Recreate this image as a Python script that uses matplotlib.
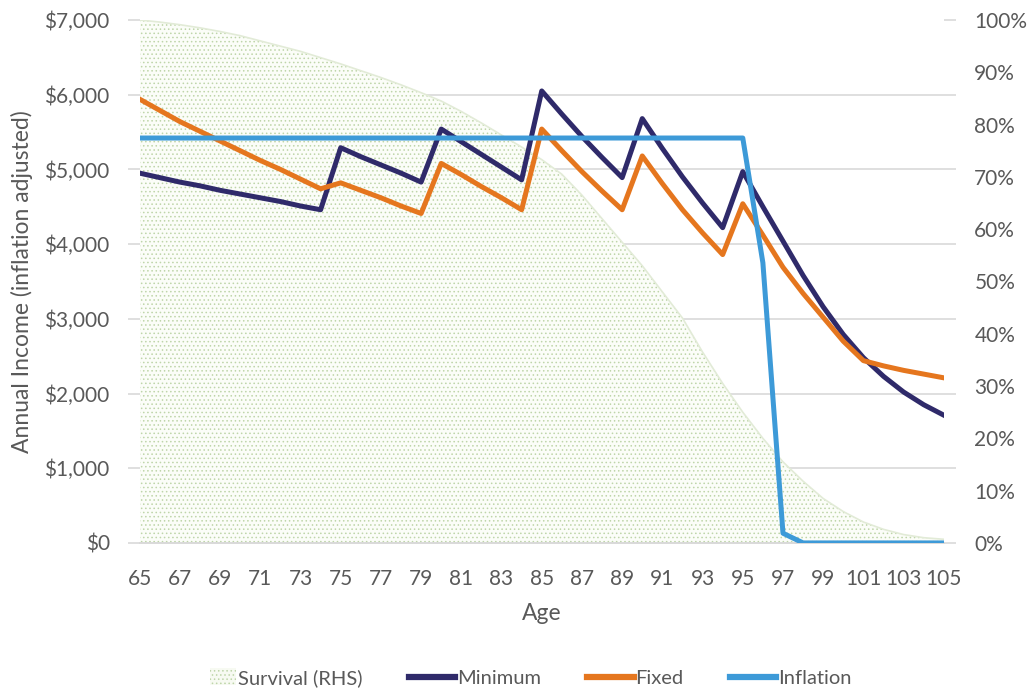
import numpy as np
import matplotlib
matplotlib.use("Agg")
import matplotlib.pyplot as plt
import matplotlib.patches as mpatches
from matplotlib.legend_handler import HandlerPatch
from matplotlib.lines import Line2D
from matplotlib.ticker import FuncFormatter, MultipleLocator

# ages 65..105
ages = list(range(65, 106))

minimum = [4950, 4890, 4830, 4780, 4720, 4670, 4620, 4570, 4510, 4460,
           5290, 5170, 5060, 4950, 4830,
           5540, 5370, 5200, 5030, 4860,
           6050, 5740, 5440, 5160, 4890,
           5680, 5280, 4900, 4550, 4220,
           4970, 4500, 4040, 3580, 3160, 2790, 2480, 2230, 2020, 1850, 1710]

fixed = [5940, 5790, 5640, 5510, 5380, 5250, 5120, 5000, 4870, 4740,
         4820, 4720, 4620, 4510, 4410,
         5080, 4930, 4770, 4620, 4460,
         5540, 5250, 4970, 4710, 4460,
         5180, 4810, 4460, 4150, 3860,
         4540, 4120, 3690, 3340, 3020, 2700, 2440, 2370, 2310, 2260, 2210]

inflation = [5420] * 31 + [3750, 130, 0, 0, 0, 0, 0, 0, 0, 0]

# survival probability (%), right hand scale
survival = [100, 99.6, 99.1, 98.5, 97.8, 97.0, 96.0, 95.0, 94.0, 92.8,
            91.6, 90.3, 89.0, 87.6, 86.1, 84.5, 82.5, 80.3, 78.0, 75.7,
            73.3, 70.5, 66.5, 62.0, 57.5, 53.0, 48.0, 43.0, 36.5, 30.5,
            25.0, 20.0, 15.5, 11.8, 8.5, 6.0, 4.0, 2.6, 1.6, 1.0, 0.7]

c_min = '#2f2a6a'
c_fix = '#e5761e'
c_inf = '#3d9ad8'
c_grid = '#d9d9d9'
c_text = '#595959'
c_dots = '#bed5a9'

plt.rcParams['font.family'] = ['Lato', 'DejaVu Sans']
plt.rcParams['hatch.linewidth'] = 0.6

fig = plt.figure(figsize=(10.27, 6.89), dpi=100)
ax = fig.add_axes([0.136, 0.212, 0.783, 0.759])
ax2 = ax.twinx()

# survival area on the right axis, below the income lines
ax.set_zorder(ax2.get_zorder() + 1)
ax.patch.set_visible(False)

ax2.fill_between(ages, survival, 0, facecolor='#fbfdf8', edgecolor=c_dots,
                 hatch='....', linewidth=0, zorder=1)
ax2.plot(ages, survival, color='#e2ebd7', lw=1.2, zorder=2)
ax2.set_ylim(0, 100)
ax2.yaxis.set_major_locator(MultipleLocator(10))
ax2.yaxis.set_major_formatter(FuncFormatter(lambda v, p: f'{v:.0f}%'))
# gridlines follow the left ($1,000) axis
ax2.set_yticks(np.linspace(0, 100, 8), minor=True)
ax2.set_axisbelow(True)
ax2.grid(which='minor', axis='y', color=c_grid, lw=1.2)
ax2.tick_params(axis='y', which='both', length=0, labelsize=15,
                labelcolor=c_text, pad=22)

ax.plot(ages, minimum, color=c_min, lw=3.6, label='Minimum', zorder=3)
ax.plot(ages, fixed, color=c_fix, lw=3.6, label='Fixed', zorder=3)
ax.plot(ages, inflation, color=c_inf, lw=3.6, label='Inflation', zorder=4)

ax.set_xlim(65, 105)
ax.set_ylim(0, 7000)
ax.set_xticks(ages[::2])
ax.yaxis.set_major_locator(MultipleLocator(1000))
ax.yaxis.set_major_formatter(FuncFormatter(lambda v, p: f'${v:,.0f}'))
ax.tick_params(axis='y', left=True, right=True, direction='out', length=8.6,
               width=1.2, color=c_grid, labelsize=15, labelcolor=c_text, pad=13)
ax.tick_params(axis='x', length=0, labelsize=15, labelcolor=c_text, pad=19)

for a in (ax, ax2):
    for s in ('top', 'left', 'right'):
        a.spines[s].set_visible(False)
    a.spines['bottom'].set_color(c_grid)
    a.spines['bottom'].set_linewidth(1.2)

ax.set_xlabel('Age', fontsize=16.5, color=c_text, labelpad=10)
ax.set_ylabel('Annual Income (inflation adjusted)', fontsize=16.5,
              color=c_text, labelpad=8)


def small_patch(legend, orig_handle, xdescent, ydescent, width, height, fontsize):
    return mpatches.Rectangle((xdescent + width * 0.45, ydescent - 1),
                              width * 0.55, height + 2)


surv_handle = mpatches.Patch(facecolor='#f7faf2', edgecolor=c_dots,
                             hatch='....', linewidth=0, label='Survival (RHS)')
handles = [surv_handle,
           Line2D([], [], color=c_min, lw=4.5, label='Minimum'),
           Line2D([], [], color=c_fix, lw=4.5, label='Fixed'),
           Line2D([], [], color=c_inf, lw=4.5, label='Inflation')]
fig.legend(handles=handles, loc='center', bbox_to_anchor=(0.507, 0.016),
           ncol=4, frameon=False, fontsize=14.5, labelcolor=c_text,
           handlelength=2.3, handletextpad=0.1, columnspacing=2.3,
           handler_map={surv_handle: HandlerPatch(patch_func=small_patch)})

fig.savefig('out.png', dpi=100)
